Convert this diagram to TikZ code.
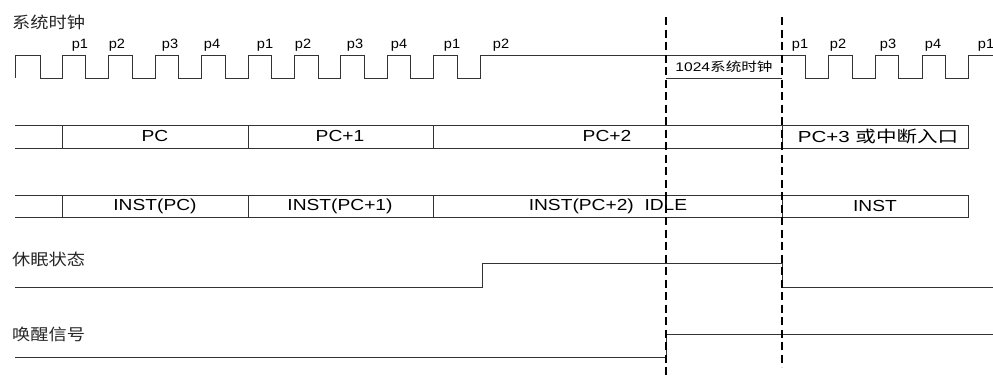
\documentclass[tikz,border=0pt]{standalone}
\usepackage{fontspec}
\setmainfont{Liberation Sans}
\newfontfamily\cjk{Noto Sans CJK SC}
\begin{document}
\begin{tikzpicture}[x=1pt,y=-1pt,
  wave/.style={draw=black!80,line width=0.9pt,line join=miter},
  guide/.style={draw=black,line width=1.6pt,dash pattern=on 8pt off 4.5pt},
  plab/.style={font=\fontsize{13.5}{15}\selectfont,text=black,inner sep=0pt,anchor=base,xscale=1.08,transform shape},
  blab/.style={font=\fontsize{16}{18}\selectfont,text=black,inner sep=0pt,xscale=1.2,transform shape},
  clab/.style={font=\fontsize{16}{18}\cjk\selectfont,text=black!85,inner sep=0pt,anchor=west,xscale=1.14,transform shape}]
\useasboundingbox (0,0) rectangle (993,376);
% labels
\node[clab] (tclk) at (12,22) {系统时钟};
\node[clab] (tslp) at (12,259) {休眠状态};
\node[clab] (twak) at (12,334) {唤醒信号};
% p labels
\foreach \x/\t [count=\i] in {80/p1,117/p2,170/p3,212/p4,265/p1,303/p2,355/p3,399/p4,452/p1,501/p2,800/p1,838/p2,888/p3,933/p4,986/p1}
  \node[plab] (p\i) at (\x,48) {\t};
% clock waveform
\draw[wave] (15,78)--(15,55)--(40,55)--(40,78)--(62,78)--(62,55)--(85,55)--(85,78)--(108,78)--(108,55)--(132,55)--(132,78)--(155,78)--(155,55)--(178,55)--(178,78)--(201,78)--(201,55)--(225,55)--(225,78)--(248,78)--(248,55)--(271,55)--(271,78)--(294,78)--(294,55)--(318,55)--(318,78)--(340,78)--(340,55)--(364,55)--(364,78)--(387,78)--(387,55)--(410,55)--(410,78)--(433,78)--(433,55)--(457,55)--(457,78)--(480,78)--(480,55)--(805,55)--(805,78)--(828,78)--(828,55)--(852,55)--(852,78)--(875,78)--(875,55)--(898,55)--(898,78)--(922,78)--(922,55)--(945,55)--(945,78)--(968,78)--(968,55)--(993,55);
\draw[wave] (666,78)--(782,78);
\node[blab,font=\fontsize{12.5}{14}\selectfont,xscale=1.04] (cnt) at (724,67) {1024{\cjk 系统时钟}};
% PC bus
\draw[wave] (15,125)--(968,125)--(968,148)--(15,148);
\foreach \x in {62,248,433,782} \draw[wave] (\x,125)--(\x,148);
\node[blab] (pc0) at (155,136) {PC};
\node[blab] (pc1) at (340,136) {PC+1};
\node[blab] (pc2) at (607,136) {PC+2};
\node[blab,xscale=1.07] (pc3) at (878,136) {PC+3 {\cjk 或中断入口}};
% INST bus
\draw[wave] (15,195)--(968,195)--(968,217)--(15,217);
\foreach \x in {62,248,433,782} \draw[wave] (\x,195)--(\x,217);
\node[blab] (in0) at (155,206) {INST(PC)};
\node[blab] (in1) at (340,206) {INST(PC+1)};
\node[blab] (in2) at (608,206) {INST(PC+2)\ \ IDLE};
\node[blab] (in3) at (875,206) {INST};
% sleep state
\draw[wave] (15,287)--(482,287)--(482,263)--(782,263)--(782,287)--(993,287);
% wake signal
\draw[wave] (15,357)--(666,357)--(666,334)--(993,334);
% guides
\coordinate (g1a) at (666,17); \coordinate (g1b) at (666,376);
\coordinate (g2a) at (782,17); \coordinate (g2b) at (782,367);
\draw[guide] (g1a)--(g1b);
\draw[guide] (g2a)--(g2b);
\end{tikzpicture}
\end{document}
